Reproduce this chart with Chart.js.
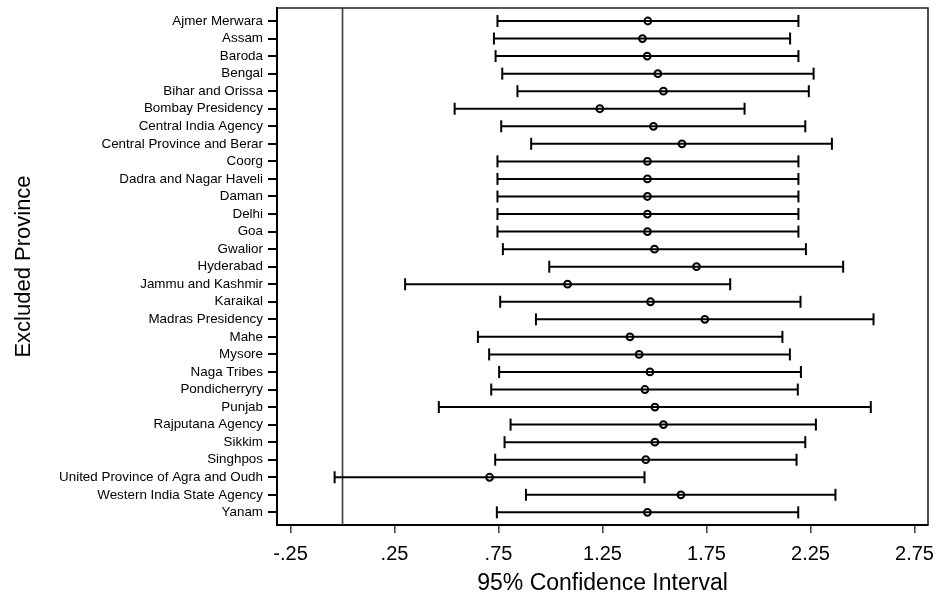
<!DOCTYPE html>
<html>
<head>
<meta charset="utf-8">
<script src="https://cdn.jsdelivr.net/npm/chart.js@4.4.1/dist/chart.umd.min.js"></script>
<style>
  body { margin: 0; background: #fff; }
  #wrap { width: 942px; height: 601px; }
</style>
</head>
<body>
<div id="wrap"><canvas id="chart"></canvas></div>
<script>
const provinces = [
  'Ajmer Merwara', 'Assam', 'Baroda', 'Bengal', 'Bihar and Orissa', 'Bombay Presidency',
  'Central India Agency', 'Central Province and Berar', 'Coorg', 'Dadra and Nagar Haveli',
  'Daman', 'Delhi', 'Goa', 'Gwalior', 'Hyderabad', 'Jammu and Kashmir', 'Karaikal',
  'Madras Presidency', 'Mahe', 'Mysore', 'Naga Tribes', 'Pondicherryry', 'Punjab',
  'Rajputana Agency', 'Sikkim', 'Singhpos', 'United Province of Agra and Oudh',
  'Western India State Agency', 'Yanam'
];
const estimates = [1.468, 1.442, 1.465, 1.516, 1.543, 1.237, 1.495, 1.632, 1.466, 1.466,
  1.466, 1.466, 1.466, 1.500, 1.702, 1.082, 1.481, 1.742, 1.382, 1.426, 1.478, 1.454,
  1.502, 1.543, 1.502, 1.458, 0.707, 1.627, 1.466];
const lower = [0.745, 0.728, 0.736, 0.768, 0.841, 0.539, 0.763, 0.907, 0.745, 0.745,
  0.745, 0.745, 0.745, 0.771, 0.994, 0.301, 0.758, 0.930, 0.651, 0.705, 0.753, 0.715,
  0.463, 0.808, 0.779, 0.734, -0.038, 0.882, 0.742];
const upper = [2.192, 2.152, 2.192, 2.265, 2.242, 1.933, 2.225, 2.353, 2.192, 2.192,
  2.192, 2.192, 2.192, 2.228, 2.407, 1.864, 2.202, 2.553, 2.115, 2.151, 2.204, 2.189,
  2.540, 2.276, 2.225, 2.183, 1.452, 2.370, 2.191];
const xTicks = [-0.25, 0.25, 0.75, 1.25, 1.75, 2.25, 2.75];
const xTickLabels = ['-.25', '.25', '.75', '1.25', '1.75', '2.25', '2.75'];
const refLine = 0;

const FONT = '"Liberation Sans", Arial, sans-serif';

// error bars: one small line dataset per province, caps as rotated 'line' points
const barSets = provinces.map((p, i) => ({
  type: 'scatter',
  showLine: true,
  order: 1,
  data: [{ x: lower[i], y: i + 1 }, { x: upper[i], y: i + 1 }],
  borderColor: '#000',
  borderWidth: 2,
  pointStyle: 'line',
  rotation: 90,
  pointRadius: 6,
  pointBorderWidth: 2,
  pointBorderColor: '#000'
}));

const pointSet = {
  type: 'scatter',
  order: 0,
  data: provinces.map((p, i) => ({ x: estimates[i], y: i + 1 })),
  pointStyle: 'circle',
  pointRadius: 3.4,
  pointBorderWidth: 2,
  pointBorderColor: '#000',
  pointBackgroundColor: 'rgba(0,0,0,0)'
};

const frame = {
  id: 'frame',
  beforeDatasetsDraw(chart) {
    const { ctx, chartArea: a, scales: { x } } = chart;
    const px = x.getPixelForValue(refLine);
    ctx.save();
    ctx.strokeStyle = '#444';
    ctx.lineWidth = 1.7;
    ctx.beginPath();
    ctx.moveTo(px, a.top);
    ctx.lineTo(px, a.bottom);
    ctx.stroke();
    ctx.restore();
  },
  afterDraw(chart) {
    const { ctx, chartArea: a } = chart;
    ctx.save();
    ctx.strokeStyle = '#222';
    ctx.lineWidth = 1.6;
    ctx.beginPath();
    ctx.moveTo(a.left, a.top);
    ctx.lineTo(a.right, a.top);
    ctx.lineTo(a.right, a.bottom);
    ctx.stroke();
    ctx.restore();
  }
};

new Chart(document.getElementById('chart'), {
  type: 'scatter',
  data: { datasets: [pointSet, ...barSets] },
  options: {
    responsive: true,
    maintainAspectRatio: false,
    animation: false,
    layout: { padding: { top: 0, right: 14, left: 0, bottom: 0 } },
    plugins: { legend: { display: false }, tooltip: { enabled: false } },
    scales: {
      x: {
        type: 'linear',
        min: -0.315,
        max: 2.815,
        afterBuildTicks(scale) { scale.ticks = xTicks.map(v => ({ value: v })); },
        afterFit(scale) {
          scale.height = 76;
          scale.paddingLeft = 0;
          scale.paddingRight = 0;
        },
        ticks: {
          callback: (v) => xTickLabels[xTicks.indexOf(v)],
          color: '#000',
          font: { family: FONT, size: 20 },
          padding: 9,
          maxRotation: 0,
          autoSkip: false
        },
        grid: { display: true, drawOnChartArea: false, tickLength: 8, color: '#444', lineWidth: 1.6 },
        border: { display: true, color: '#000', width: 2 },
        title: {
          display: true,
          text: '95% Confidence Interval',
          color: '#000',
          font: { family: FONT, size: 23 },
          padding: { top: 0, bottom: 4 }
        }
      },
      y: {
        type: 'linear',
        reverse: true,
        min: 0.26,
        max: 29.72,
        afterBuildTicks(scale) { scale.ticks = provinces.map((p, i) => ({ value: i + 1 })); },
        afterFit(scale) {
          scale.width = 277;
          scale.paddingTop = 0;
          scale.paddingBottom = 0;
        },
        ticks: {
          callback: (v) => provinces[v - 1],
          color: '#000',
          font: { family: FONT, size: 13.4 },
          padding: 5,
          autoSkip: false
        },
        grid: { display: true, drawOnChartArea: false, tickLength: 9, color: '#000', lineWidth: 2 },
        border: { display: true, color: '#000', width: 2 },
        title: {
          display: true,
          text: 'Excluded Province',
          color: '#000',
          font: { family: FONT, size: 22 },
          padding: { top: 11, bottom: 0 }
        }
      }
    }
  },
  plugins: [frame]
});
</script>
</body>
</html>
